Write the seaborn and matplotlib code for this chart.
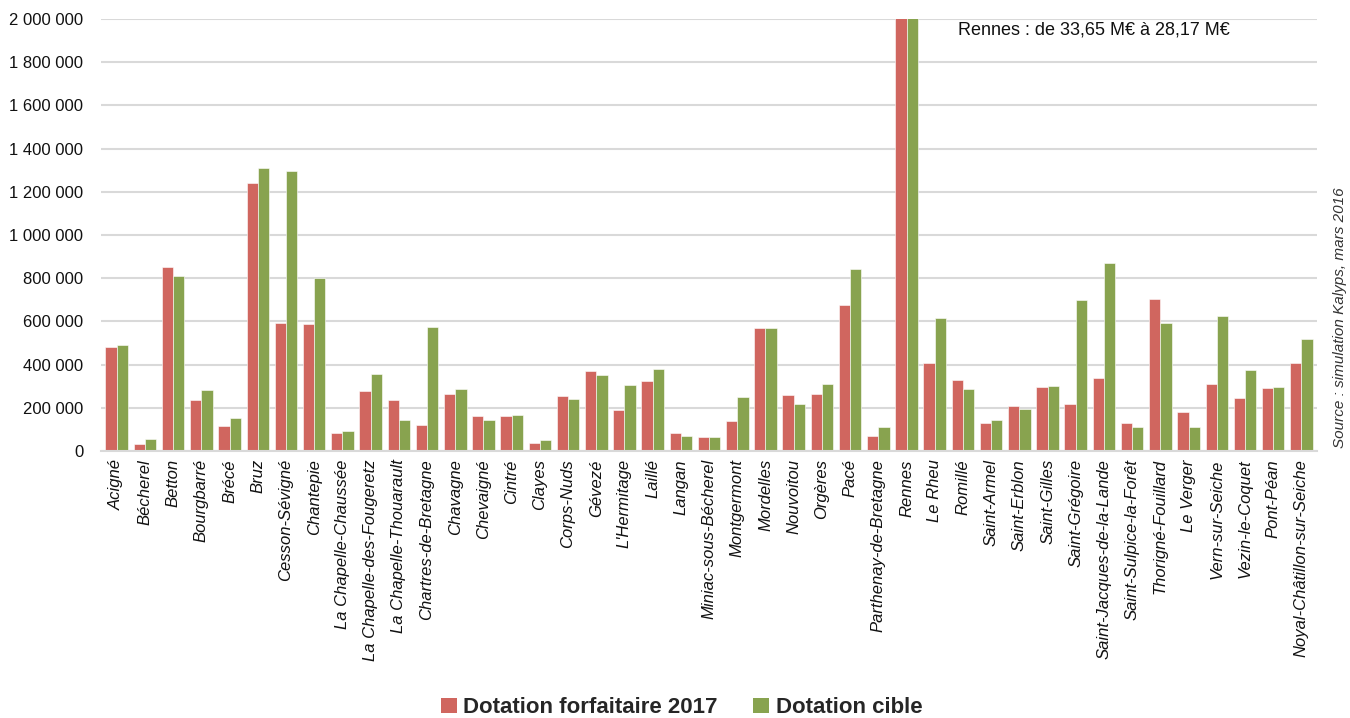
import matplotlib
matplotlib.use("Agg")
import matplotlib.pyplot as plt
import seaborn as sns
import pandas as pd
from matplotlib.ticker import FuncFormatter
from matplotlib.patches import Patch
from matplotlib import font_manager

communes = ["Acigné", "Bécherel", "Betton", "Bourgbarré", "Brécé", "Bruz", "Cesson-Sévigné",
            "Chantepie", "La Chapelle-Chaussée", "La Chapelle-des-Fougeretz",
            "La Chapelle-Thouarault", "Chartres-de-Bretagne", "Chavagne", "Chevaigné", "Cintré",
            "Clayes", "Corps-Nuds", "Gévezé", "L'Hermitage", "Laillé", "Langan",
            "Miniac-sous-Bécherel", "Montgermont", "Mordelles", "Nouvoitou", "Orgères", "Pacé",
            "Parthenay-de-Bretagne", "Rennes", "Le Rheu", "Romillé", "Saint-Armel",
            "Saint-Erblon", "Saint-Gilles", "Saint-Grégoire", "Saint-Jacques-de-la-Lande",
            "Saint-Sulpice-la-Forêt", "Thorigné-Fouillard", "Le Verger", "Vern-sur-Seiche",
            "Vezin-le-Coquet", "Pont-Péan", "Noyal-Châtillon-sur-Seiche"]

dotation_forfaitaire_2017 = [483000, 32000, 853000, 235000, 116000, 1242000, 593000,
                             586000, 82000, 278000,
                             238000, 119000, 262000, 160000, 160000,
                             37000, 256000, 372000, 188000, 322000, 85000,
                             63000, 139000, 571000, 259000, 265000, 674000,
                             71000, 33650000, 406000, 329000, 131000,
                             208000, 296000, 218000, 336000,
                             131000, 704000, 181000, 312000,
                             247000, 293000, 406000]

dotation_cible = [491000, 56000, 810000, 281000, 153000, 1310000, 1295000,
                  801000, 94000, 358000,
                  143000, 572000, 287000, 143000, 167000,
                  51000, 241000, 352000, 305000, 378000, 69000,
                  63000, 250000, 568000, 218000, 312000, 844000,
                  111000, 28170000, 616000, 287000, 143000,
                  196000, 299000, 699000, 870000,
                  110000, 593000, 113000, 623000,
                  375000, 296000, 520000]

series_names = ["Dotation forfaitaire 2017", "Dotation cible"]
colors = ["#D0665F", "#88A34F"]

df = pd.DataFrame({
    "commune": communes * 2,
    "valeur": dotation_forfaitaire_2017 + dotation_cible,
    "serie": [series_names[0]] * len(communes) + [series_names[1]] * len(communes),
})

sns.set_theme(style="white")
avail = {f.name for f in font_manager.fontManager.ttflist}
narrow = "Liberation Sans Narrow" if "Liberation Sans Narrow" in avail else "Liberation Sans"
plt.rcParams["font.family"] = [narrow, "DejaVu Sans"]

fig = plt.figure(figsize=(13.5, 7.18), dpi=100)
ax = fig.add_axes([0.075, 0.372, 0.9005, 0.6015])

sns.barplot(data=df, x="commune", y="valeur", hue="serie", palette=colors,
            saturation=1, width=0.8, ax=ax, edgecolor="white", linewidth=0.4,
            legend=False)

ax.set_ylim(0, 2000000)
ax.set_xlim(-0.55, len(communes) - 0.45)
ax.set_yticks(range(0, 2000001, 200000))
ax.yaxis.set_major_formatter(FuncFormatter(lambda v, p: f"{int(v):,}".replace(",", " ")))
ax.grid(axis="y", color="#D9D9D9", linewidth=1.5)
ax.set_axisbelow(True)
for s in ["top", "right", "left"]:
    ax.spines[s].set_visible(False)
ax.spines["bottom"].set_color("#D9D9D9")
ax.spines["bottom"].set_linewidth(1.5)
ax.set_xlabel("")
ax.set_ylabel("")
ax.tick_params(axis="y", length=0, labelsize=12, pad=13, colors="#111111")
ax.tick_params(axis="x", length=0, labelsize=12, pad=6, colors="#111111")
ax.set_xticks(range(len(communes)))
ax.set_xticklabels(communes, rotation=90, style="italic")

ax.text(0.705, 0.975, "Rennes : de 33,65 M€ à 28,17 M€", transform=ax.transAxes,
        fontsize=13, ha="left", va="center", color="#111111")

fig.text(0.9926, 0.557, "Source : simulation Kalyps, mars 2016", rotation=90,
         style="italic", fontsize=11, ha="center", va="center", color="#333333")

handles = [Patch(facecolor=c, edgecolor="none") for c in colors]
fig.legend(handles, series_names, loc="center", bbox_to_anchor=(0.505, 0.014),
           ncol=2, frameon=False,
           prop={"weight": "bold", "size": 16, "family": [narrow, "DejaVu Sans"]},
           handlelength=0.7, handleheight=0.7, handletextpad=0.3, columnspacing=1.6)

fig.savefig("out.png", dpi=100)
